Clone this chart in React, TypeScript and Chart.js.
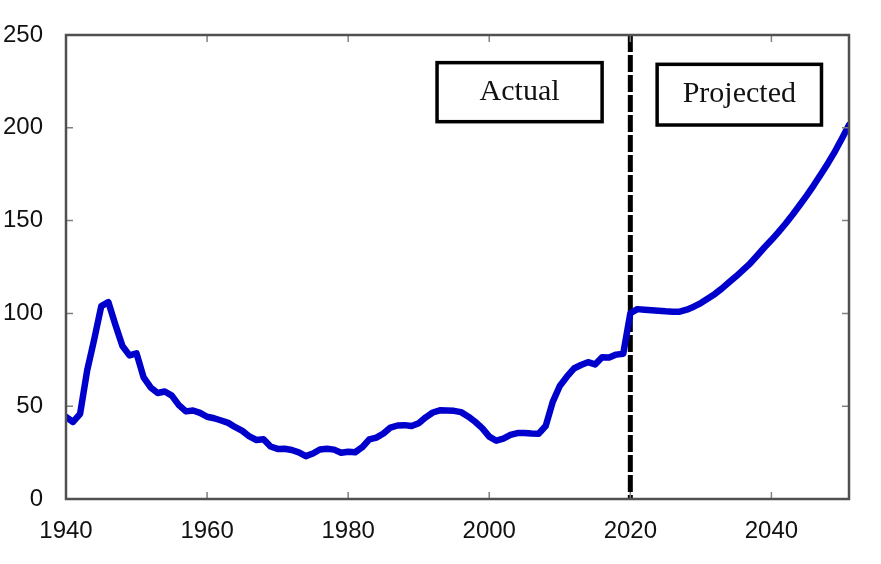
import React, { useEffect, useRef } from "react";
import { Chart, registerables } from "chart.js";

Chart.register(...registerables);

// ---------- data ----------
const actualYears = [
  1940, 1941, 1942, 1943, 1944, 1945, 1946, 1947, 1948, 1949,
  1950, 1951, 1952, 1953, 1954, 1955, 1956, 1957, 1958, 1959,
  1960, 1961, 1962, 1963, 1964, 1965, 1966, 1967, 1968, 1969,
  1970, 1971, 1972, 1973, 1974, 1975, 1976, 1977, 1978, 1979,
  1980, 1981, 1982, 1983, 1984, 1985, 1986, 1987, 1988, 1989,
  1990, 1991, 1992, 1993, 1994, 1995, 1996, 1997, 1998, 1999,
  2000, 2001, 2002, 2003, 2004, 2005, 2006, 2007, 2008, 2009,
  2010, 2011, 2012, 2013, 2014, 2015, 2016, 2017, 2018, 2019,
  2020,
];
const actualValues = [
  44.2, 41.5, 45.9, 69.2, 86.0, 103.9, 106.1, 93.9, 82.4, 77.4,
  78.5, 65.5, 60.1, 57.1, 57.9, 55.7, 50.6, 47.2, 47.7, 46.4,
  44.3, 43.5, 42.3, 41.0, 38.7, 36.7, 33.7, 31.8, 32.2, 28.3,
  27.0, 27.1, 26.4, 25.1, 23.1, 24.5, 26.7, 27.1, 26.6, 24.9,
  25.5, 25.2, 27.9, 32.1, 33.1, 35.3, 38.5, 39.6, 39.8, 39.3,
  40.8, 44.0, 46.6, 47.8, 47.7, 47.5, 46.8, 44.5, 41.6, 38.2,
  33.6, 31.4, 32.5, 34.5, 35.5, 35.6, 35.3, 35.2, 39.3, 52.3,
  60.9, 65.9, 70.3, 72.2, 73.7, 72.5, 76.4, 76.2, 77.8, 78.3,
  100.1,
];
const projectedYears = [
  2021, 2022, 2023, 2024, 2025, 2026, 2027, 2028, 2029, 2030,
  2031, 2032, 2033, 2034, 2035, 2036, 2037, 2038, 2039, 2040,
  2041, 2042, 2043, 2044, 2045, 2046, 2047, 2048, 2049, 2050,
  2051,
];
const projectedValues = [
  102.3, 102.0, 101.7, 101.4, 101.1, 100.9, 100.9, 102.0, 103.6, 105.6,
  108.0, 110.5, 113.5, 116.8, 120.0, 123.5, 127.0, 131.2, 135.5, 139.5,
  143.8, 148.3, 153.2, 158.3, 163.5, 169.0, 174.8, 180.8, 187.2, 194.2,
  201.5,
];
const xTickValues = [1940, 1960, 1980, 2000, 2020, 2040];
const yTickValues = [0, 50, 100, 150, 200, 250];
const dividerYear = 2020;
const labels = [
  { text: "Actual", x0: 1992.6, x1: 2016.0, y0: 235.1, y1: 203.3, baseline: 215.0 },
  { text: "Projected", x0: 2023.8, x1: 2047.1, y0: 234.2, y1: 201.5, baseline: 214.1 },
];

// ---------- plugin ----------
const decorPlugin = {
  id: "decor",
  beforeDatasetsDraw(chart: any) {
    const { ctx, chartArea } = chart;
    const xs = chart.scales.x;
    const px = xs.getPixelForValue(dividerYear);
    ctx.save();
    ctx.strokeStyle = "#000";
    ctx.lineWidth = 5;
    ctx.setLineDash([17, 3]);
    ctx.beginPath();
    ctx.moveTo(px, chartArea.top);
    ctx.lineTo(px, chartArea.bottom);
    ctx.stroke();
    ctx.restore();
  },
  afterDatasetsDraw(chart: any) {
    const { ctx, chartArea } = chart;
    const xs = chart.scales.x;
    const ys = chart.scales.y;
    const { left, right, top, bottom } = chartArea;
    ctx.save();
    // inner ticks
    ctx.strokeStyle = "#808080";
    ctx.lineWidth = 1.5;
    const tl = 7;
    ctx.beginPath();
    xTickValues.forEach((v) => {
      const p = xs.getPixelForValue(v);
      if (p <= left + 2 || p >= right - 2) return;
      ctx.moveTo(p, bottom);
      ctx.lineTo(p, bottom - tl);
      ctx.moveTo(p, top);
      ctx.lineTo(p, top + tl);
    });
    yTickValues.forEach((v) => {
      const p = ys.getPixelForValue(v);
      if (p <= top + 2 || p >= bottom - 2) return;
      ctx.moveTo(left, p);
      ctx.lineTo(left + tl, p);
      ctx.moveTo(right, p);
      ctx.lineTo(right - tl, p);
    });
    ctx.stroke();
    // frame
    ctx.strokeStyle = "#505050";
    ctx.lineWidth = 2.5;
    ctx.strokeRect(left, top, right - left, bottom - top);
    // label boxes
    labels.forEach((b) => {
      const x0 = xs.getPixelForValue(b.x0);
      const x1 = xs.getPixelForValue(b.x1);
      const y0 = ys.getPixelForValue(b.y0);
      const y1 = ys.getPixelForValue(b.y1);
      ctx.fillStyle = "#fff";
      ctx.fillRect(x0, y0, x1 - x0, y1 - y0);
      ctx.strokeStyle = "#000";
      ctx.lineWidth = 3.5;
      ctx.strokeRect(x0, y0, x1 - x0, y1 - y0);
      ctx.fillStyle = "#111";
      ctx.font = '30px "Liberation Serif", "Times New Roman", serif';
      ctx.textAlign = "center";
      ctx.textBaseline = "alphabetic";
      ctx.fillText(b.text, (x0 + x1) / 2, ys.getPixelForValue(b.baseline));
    });
    ctx.restore();
  },
};

export default function App() {
  const canvasRef = useRef<HTMLCanvasElement | null>(null);

  useEffect(() => {
    document.body.style.margin = "0";
    const canvas = canvasRef.current;
    if (!canvas) return;
    const points = [
      ...actualYears.map((x, i) => ({ x, y: actualValues[i] })),
      ...projectedYears.map((x, i) => ({ x, y: projectedValues[i] })),
    ];
    const tickFont = { family: '"Liberation Sans", Arial, sans-serif', size: 24 };
    const chart = new Chart(canvas, {
      type: "line",
      data: {
        datasets: [
          {
            data: points,
            borderColor: "#0000CC",
            borderWidth: 6.5,
            pointRadius: 0,
            tension: 0,
            borderJoinStyle: "round",
            borderCapStyle: "round",
            fill: false,
          },
        ],
      },
      options: {
        animation: false,
        responsive: true,
        maintainAspectRatio: false,
        layout: { padding: { left: 0, top: 35, right: 32, bottom: 0 } },
        plugins: {
          legend: { display: false },
          tooltip: { enabled: false },
          title: { display: false },
        },
        scales: {
          x: {
            type: "linear",
            min: 1940,
            max: 2051,
            grid: { display: false },
            border: { display: false },
            afterBuildTicks: (scale: any) => {
              scale.ticks = xTickValues.map((value) => ({ value }));
            },
            afterFit: (scale: any) => {
              scale.height = 65;
            },
            ticks: {
              font: tickFont,
              color: "#111",
              padding: 10,
              maxRotation: 0,
              autoSkip: false,
              callback: (v: any) => String(v),
            },
          },
          y: {
            type: "linear",
            min: 0,
            max: 250,
            grid: { display: false },
            border: { display: false },
            afterBuildTicks: (scale: any) => {
              scale.ticks = yTickValues.map((value) => ({ value }));
            },
            afterFit: (scale: any) => {
              scale.width = 66;
            },
            ticks: {
              font: tickFont,
              color: "#111",
              padding: 15,
              autoSkip: false,
              callback: (v: any) => String(v),
            },
          },
        },
      } as any,
      plugins: [decorPlugin],
    });
    return () => chart.destroy();
  }, []);

  return (
    <div style={{ position: "relative", width: "881px", height: "564px", background: "#fff" }}>
      <canvas ref={canvasRef} />
    </div>
  );
}
